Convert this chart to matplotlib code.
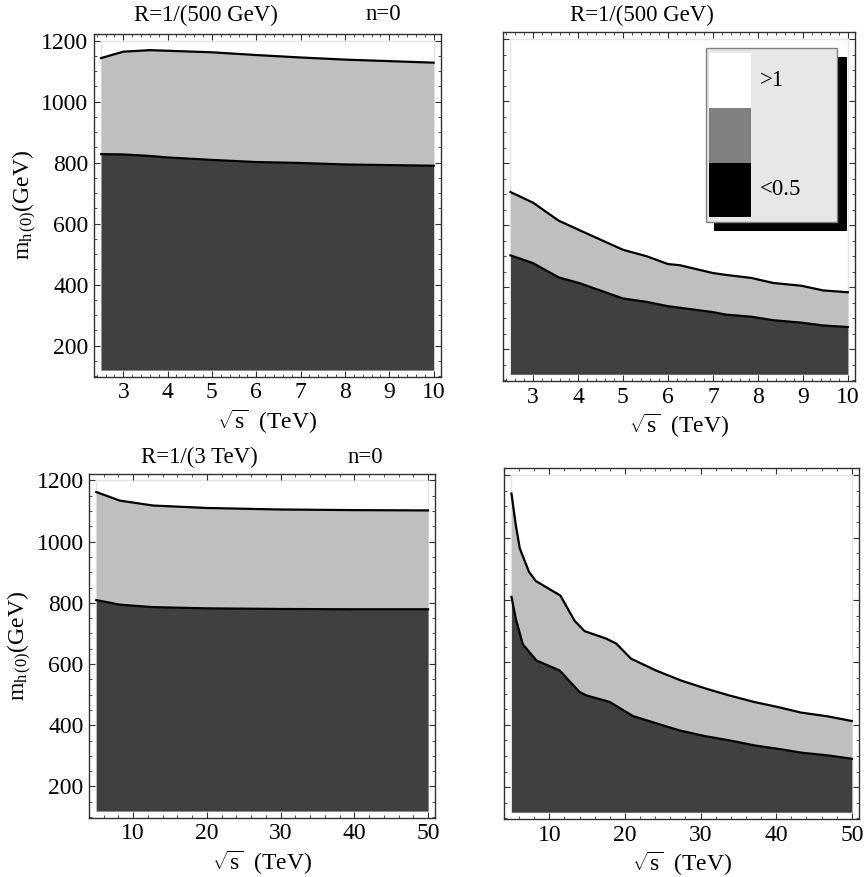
import numpy as np
import matplotlib
matplotlib.use("Agg")
import matplotlib.pyplot as plt
import matplotlib.patches as patches
from matplotlib.ticker import MultipleLocator

plt.rcParams['font.family'] = ['Liberation Serif', 'DejaVu Serif']
plt.rcParams['mathtext.fontset'] = 'custom'
plt.rcParams['mathtext.rm'] = 'Liberation Serif'
plt.rcParams['mathtext.it'] = 'Liberation Serif:italic'

# ---- dados ----
# R=1/(500 GeV), n=0
x_tl = [2.5, 3.0, 3.6, 4.0, 5.0, 6.0, 7.0, 8.0, 9.0, 10.0]
sup_tl = [1143, 1164, 1169, 1167, 1162, 1153, 1145, 1138, 1133, 1128]
inf_tl = [828, 827, 822, 817, 809, 802, 799, 794, 792, 790]

# R=1/(500 GeV)
x_tr = [2.5, 3.0, 3.57, 4.02, 5.0, 5.53, 6.0, 6.27, 7.0, 7.29, 7.86, 8.34, 8.97, 9.45, 10.0]
sup_tr = [707, 673, 615, 585, 521, 500, 475, 471, 446, 440, 430, 414, 405, 390, 384]
inf_tr = [503, 478, 432, 414, 364, 353, 339, 334, 320, 312, 305, 294, 286, 277, 272]

# R=1/(3 TeV), n=0
x_bl = [5, 8.2, 12.7, 20, 30, 40, 50]
sup_bl = [1162, 1134, 1118, 1110, 1105, 1103, 1102]
inf_bl = [809, 794, 786, 782, 780, 779, 779]

# quarto painel
x_br_sup = [5, 5.57, 6.1, 7.32, 8.2, 11.47, 13.35, 14.67, 17.54, 18.86, 20.8, 24.1, 27.4, 30.7, 33.8, 37.1, 40.2, 43.3, 46.8, 50]
sup_br = [1141, 1040, 965, 890, 861, 814, 733, 700, 676, 660, 612, 574, 542, 516, 494, 473, 457, 439, 427, 412]
x_br_inf = [5, 5.57, 6.5, 8.3, 11.37, 14.0, 14.9, 18.0, 21.05, 24.1, 27.2, 30.5, 33.8, 37.1, 40.2, 43.5, 46.8, 50]
inf_br = [810, 740, 658, 606, 574, 505, 494, 473, 428, 405, 382, 364, 350, 334, 323, 310, 302, 291]

titulos = ["R=1/(500 GeV)", "R=1/(500 GeV)", "R=1/(3 TeV)", ""]
legenda_cores = ['white', '#808080', 'black']
legenda_textos = ['>1', '', '<0.5']

ymin, ymax = 120, 1200
escuro = '#404040'
claro = '#bfbfbf'
fs = 17

fig = plt.figure(figsize=(8.67, 8.77), dpi=100)
W, H = 867.0, 877.0


def eixo(x0, y0, x1, y1):
    # posicao em pixels -> fracao da figura
    return fig.add_axes([x0 / W, 1 - y1 / H, (x1 - x0) / W, (y1 - y0) / H])


def painel(ax, xs_sup, sup, xs_inf, inf, xr, xpad, xmaj, xmin_step, ylab):
    ax.set_xlim(xr[0] - xpad, xr[1] + xpad)
    ax.set_ylim(98, 1222)
    ax.add_patch(patches.Rectangle((xr[0], ymin), xr[1] - xr[0], ymax - ymin,
                                   facecolor='white', edgecolor='#e4e4e4', lw=1.0, zorder=0))
    # cinza claro ate a curva superior, depois a escura por cima
    ax.fill_between(xs_sup, ymin, sup, color=claro, lw=0, zorder=1)
    ax.fill_between(xs_inf, ymin, inf, color=escuro, lw=0, zorder=2)
    ax.plot(xs_sup, sup, color='black', lw=1.6, zorder=3)
    ax.plot(xs_inf, inf, color='black', lw=1.6, zorder=3)
    ax.xaxis.set_major_locator(MultipleLocator(xmaj))
    ax.xaxis.set_minor_locator(MultipleLocator(xmin_step))
    ax.yaxis.set_major_locator(MultipleLocator(200))
    ax.yaxis.set_minor_locator(MultipleLocator(50))
    ax.tick_params(which='both', direction='in', top=True, right=True, color='#303030')
    ax.tick_params(which='major', length=4, width=0.8, labelsize=fs, pad=4)
    ax.tick_params(which='minor', length=2, width=0.6)
    for s in ax.spines.values():
        s.set_color('#303030')
        s.set_linewidth(1.0)
    ax.set_xlabel(r'$\sqrt{\mathrm{s}}$  (TeV)', fontsize=fs, labelpad=3)
    if ylab:
        ax.set_ylabel(r'$\mathrm{m}_{\mathrm{h\,(0)}}$(GeV)', fontsize=fs, labelpad=2)
    else:
        ax.set_yticklabels([])


ax1 = eixo(94, 34, 440.7, 376.7)
painel(ax1, x_tl, sup_tl, x_tl, inf_tl, (2.5, 10), 0.16, 1, 0.2, True)
ax2 = eixo(503.3, 32.3, 855, 381)
painel(ax2, x_tr, sup_tr, x_tr, inf_tr, (2.5, 10), 0.16, 1, 0.2, False)
ax3 = eixo(89.3, 473.7, 435, 817.7)
painel(ax3, x_bl, sup_bl, x_bl, inf_bl, (5, 50), 0.95, 10, 2, True)
ax4 = eixo(504.3, 468.3, 859, 819)
painel(ax4, x_br_sup, sup_br, x_br_inf, inf_br, (5, 50), 0.95, 10, 2, False)

# titulos
ft = 16.5
fig.text(205.7 / W, 1 - 15 / H, titulos[0], ha='center', va='center', fontsize=ft)
fig.text(383 / W, 1 - 15 / H, 'n=0', ha='center', va='center', fontsize=ft)
fig.text(641.7 / W, 1 - 15 / H, titulos[1], ha='center', va='center', fontsize=ft)
fig.text(199 / W, 1 - 457 / H, titulos[2], ha='center', va='center', fontsize=ft)
fig.text(365.7 / W, 1 - 457 / H, 'n=0', ha='center', va='center', fontsize=ft)

# legenda com sombra (painel superior direito)
sombra = patches.Rectangle((714.3 / W, 1 - 231.3 / H), 132.4 / W, 174.6 / H,
                           transform=fig.transFigure, facecolor='black', edgecolor='none', zorder=5)
fig.patches.append(sombra)
caixa = patches.Rectangle((705.7 / W, 1 - 222.3 / H), 131.6 / W, 174.6 / H,
                          transform=fig.transFigure, facecolor='#e6e6e6', edgecolor='#808080',
                          lw=1.0, zorder=6)
fig.patches.append(caixa)
topo = 52.7
alt = 54.9
for i, (cor, txt) in enumerate(zip(legenda_cores, legenda_textos)):
    y0 = topo + i * alt
    fig.patches.append(patches.Rectangle((709.3 / W, 1 - (y0 + alt) / H), 41.7 / W, alt / H,
                                         transform=fig.transFigure, facecolor=cor,
                                         edgecolor='none', zorder=7))
    if txt:
        fig.text(760 / W, 1 - (y0 + alt / 2) / H, txt, ha='left', va='center',
                 fontsize=ft, zorder=8)

fig.savefig('out.png', dpi=100)
